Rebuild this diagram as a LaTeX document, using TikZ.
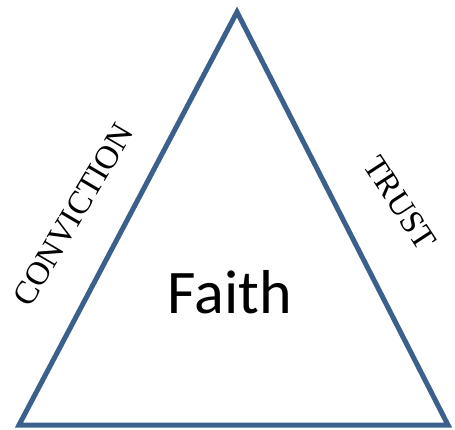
\documentclass[tikz,border=0pt]{standalone}
\usepackage{fontspec}
\setmainfont{Liberation Serif}
\newfontfamily\faithfont{Carlito}
\definecolor{edgeblue}{RGB}{60,96,140}
\begin{document}
\begin{tikzpicture}[x=1pt, y=1pt,
        side/.style = {font=\fontsize{33}{36}\selectfont, inner sep=0pt},
        centre/.style = {font=\faithfont\fontsize{62}{70}\selectfont, inner sep=0pt}]
        \useasboundingbox (0, 0) rectangle (455, 429);
        \coordinate (top) at (237, 417);
        \coordinate (left) at (19, 4);
        \coordinate (right) at (448, 4);
        \draw[line width = 5pt, edgeblue, line join = miter] (top) -- (left) -- (right) -- cycle;
        \node[side, rotate = 59.5] (conviction) at (73, 214) {CONVICTION};
        \node[side, rotate = -57] (trust) at (400, 226) {TRUST};
        \node[centre, anchor = base] (faith) at (230, 116) {Faith};
    \end{tikzpicture}
\end{document}
